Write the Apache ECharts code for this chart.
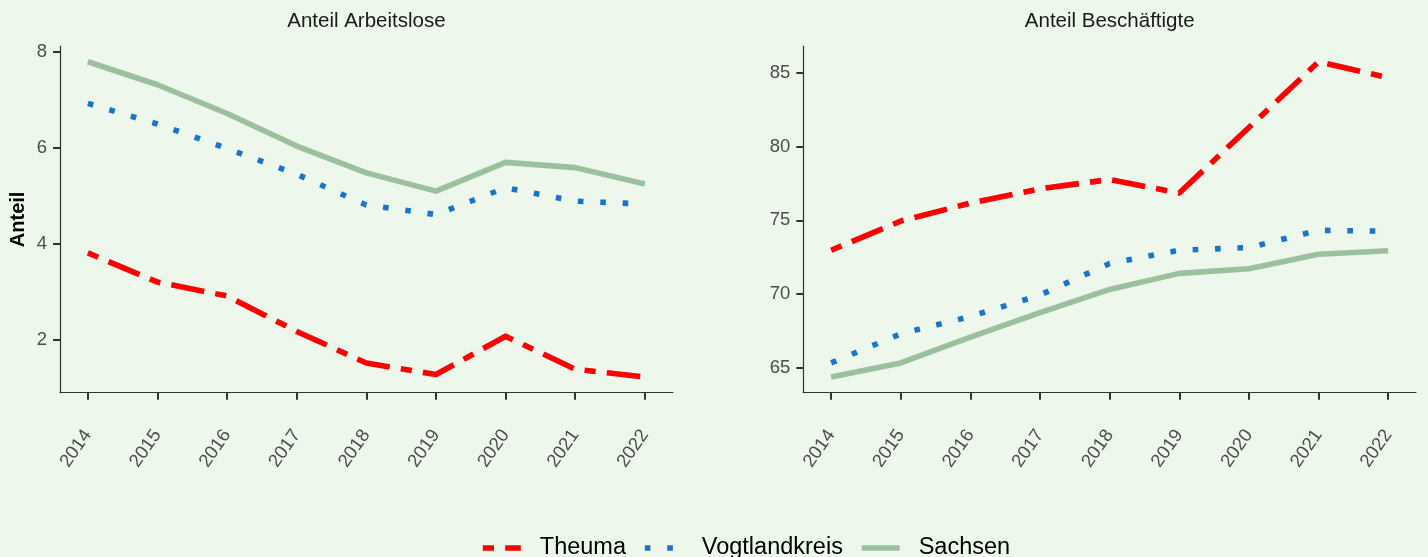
<!DOCTYPE html>
<html>
<head>
<meta charset="utf-8">
<script src="https://cdn.jsdelivr.net/npm/echarts@6/dist/echarts.min.js"></script>
<style>
html,body{margin:0;padding:0;background:#EDF7EC;}
#chart{width:1428px;height:557px;}
</style>
</head>
<body>
<div id="chart"></div>
<script>
const years = [2014, 2015, 2016, 2017, 2018, 2019, 2020, 2021, 2022];
const seriesNames = ['Theuma', 'Vogtlandkreis', 'Sachsen'];
const panelTitles = ['Anteil Arbeitslose', 'Anteil Beschäftigte'];
// Anteil Arbeitslose
const theumaArbeitslose = [3.81, 3.20, 2.91, 2.17, 1.51, 1.27, 2.07, 1.38, 1.22];
const vogtlandArbeitslose = [6.93, 6.50, 5.99, 5.45, 4.81, 4.61, 5.17, 4.89, 4.83];
const sachsenArbeitslose = [7.80, 7.32, 6.72, 6.04, 5.48, 5.10, 5.70, 5.59, 5.25];
// Anteil Beschäftigte
const theumaBeschaeftigte = [72.97, 74.95, 76.17, 77.14, 77.77, 76.85, 81.30, 85.76, 84.68];
const vogtlandBeschaeftigte = [65.32, 67.30, 68.47, 69.93, 72.07, 72.97, 73.15, 74.32, 74.26];
const sachsenBeschaeftigte = [64.37, 65.32, 67.07, 68.74, 70.31, 71.40, 71.71, 72.70, 72.93];
// tick labels
const yTicksLeft = [2, 4, 6, 8];
const yTicksRight = [65, 70, 75, 80, 85];

const FONT = 'Liberation Sans, Arial, Helvetica, sans-serif';
const colors = ['#FF0000', '#1874CD', '#9CC09C'];
const LW = 5.6;
const dashes = [[11.2, 11.2, 33.6, 11.2], [5.6, 16.8], 'solid'];

function expand(arrs) {
  const all = [].concat(...arrs);
  const mn = Math.min(...all), mx = Math.max(...all);
  const pad = (mx - mn) * 0.05;
  return [mn - pad, mx + pad];
}
const xPad = (years[years.length - 1] - years[0]) * 0.05;
const xMin = years[0] - xPad, xMax = years[years.length - 1] + xPad;
const leftRange = expand([theumaArbeitslose, vogtlandArbeitslose, sachsenArbeitslose]);
const rightRange = expand([theumaBeschaeftigte, vogtlandBeschaeftigte, sachsenBeschaeftigte]);

const axisLine = {show: true, onZero: false, lineStyle: {color: '#333333', width: 1.2}};
const axisTick = (vals) => ({show: true, length: 7, lineStyle: {color: '#333333', width: 2}, customValues: vals});

function xAxis(idx) {
  return {
    type: 'value', gridIndex: idx, min: xMin, max: xMax,
    axisLine: axisLine, splitLine: {show: false},
    axisTick: axisTick(years),
    axisLabel: {customValues: years, rotate: 55, margin: 39, color: '#4D4D4D', fontSize: 18.5, fontFamily: FONT, formatter: v => String(v)}
  };
}
function yAxis(idx, range, ticks, name) {
  return {
    type: 'value', gridIndex: idx, min: range[0], max: range[1],
    axisLine: axisLine, splitLine: {show: false},
    axisTick: axisTick(ticks),
    axisLabel: {customValues: ticks, margin: 13, color: '#4D4D4D', fontSize: 18.5, fontFamily: FONT, formatter: v => String(v)},
    name: name || '', nameLocation: 'middle', nameGap: 32, nameRotate: 90,
    nameTextStyle: {fontWeight: 'bold', fontSize: 20, color: '#000000', fontFamily: FONT}
  };
}
function mk(name, i, vals, gi) {
  return {
    name: name, type: 'line', xAxisIndex: gi, yAxisIndex: gi,
    data: years.map((y, k) => [y, vals[k]]),
    showSymbol: false, symbol: 'none', animation: false,
    lineStyle: {color: colors[i], width: LW, type: dashes[i], cap: 'butt', join: 'round'},
    itemStyle: {color: 'rgba(0,0,0,0)', borderWidth: 0}
  };
}

const chart = echarts.init(document.getElementById('chart'), null, {renderer: 'canvas'});
chart.setOption({
  backgroundColor: '#EDF7EC',
  animation: false,
  title: [
    {text: panelTitles[0], left: 366.4, top: 11, textAlign: 'center', padding: 0,
     textStyle: {fontSize: 20.5, fontWeight: 'normal', color: '#1A1A1A', fontFamily: FONT}},
    {text: panelTitles[1], left: 1109.7, top: 11, textAlign: 'center', padding: 0,
     textStyle: {fontSize: 20.5, fontWeight: 'normal', color: '#1A1A1A', fontFamily: FONT}}
  ],
  grid: [
    {left: 60, top: 46, width: 612.7, height: 346.7},
    {left: 803.3, top: 46, width: 612.7, height: 346.7}
  ],
  xAxis: [xAxis(0), xAxis(1)],
  yAxis: [yAxis(0, leftRange, yTicksLeft, 'Anteil'), yAxis(1, rightRange, yTicksRight, '')],
  legend: {
    data: seriesNames, left: 480, top: 536, padding: 0, itemGap: 16,
    itemWidth: 38, itemHeight: 24,
    itemStyle: {color: 'rgba(0,0,0,0)', borderWidth: 0, opacity: 0},
    lineStyle: {width: LW, cap: 'butt'},
    textStyle: {fontSize: 23.5, color: '#000000', fontFamily: FONT, padding: [0, 0, 0, 14]}
  },
  series: [
    mk(seriesNames[0], 0, theumaArbeitslose, 0),
    mk(seriesNames[1], 1, vogtlandArbeitslose, 0),
    mk(seriesNames[2], 2, sachsenArbeitslose, 0),
    mk(seriesNames[0], 0, theumaBeschaeftigte, 1),
    mk(seriesNames[1], 1, vogtlandBeschaeftigte, 1),
    mk(seriesNames[2], 2, sachsenBeschaeftigte, 1)
  ]
});
</script>
</body>
</html>
